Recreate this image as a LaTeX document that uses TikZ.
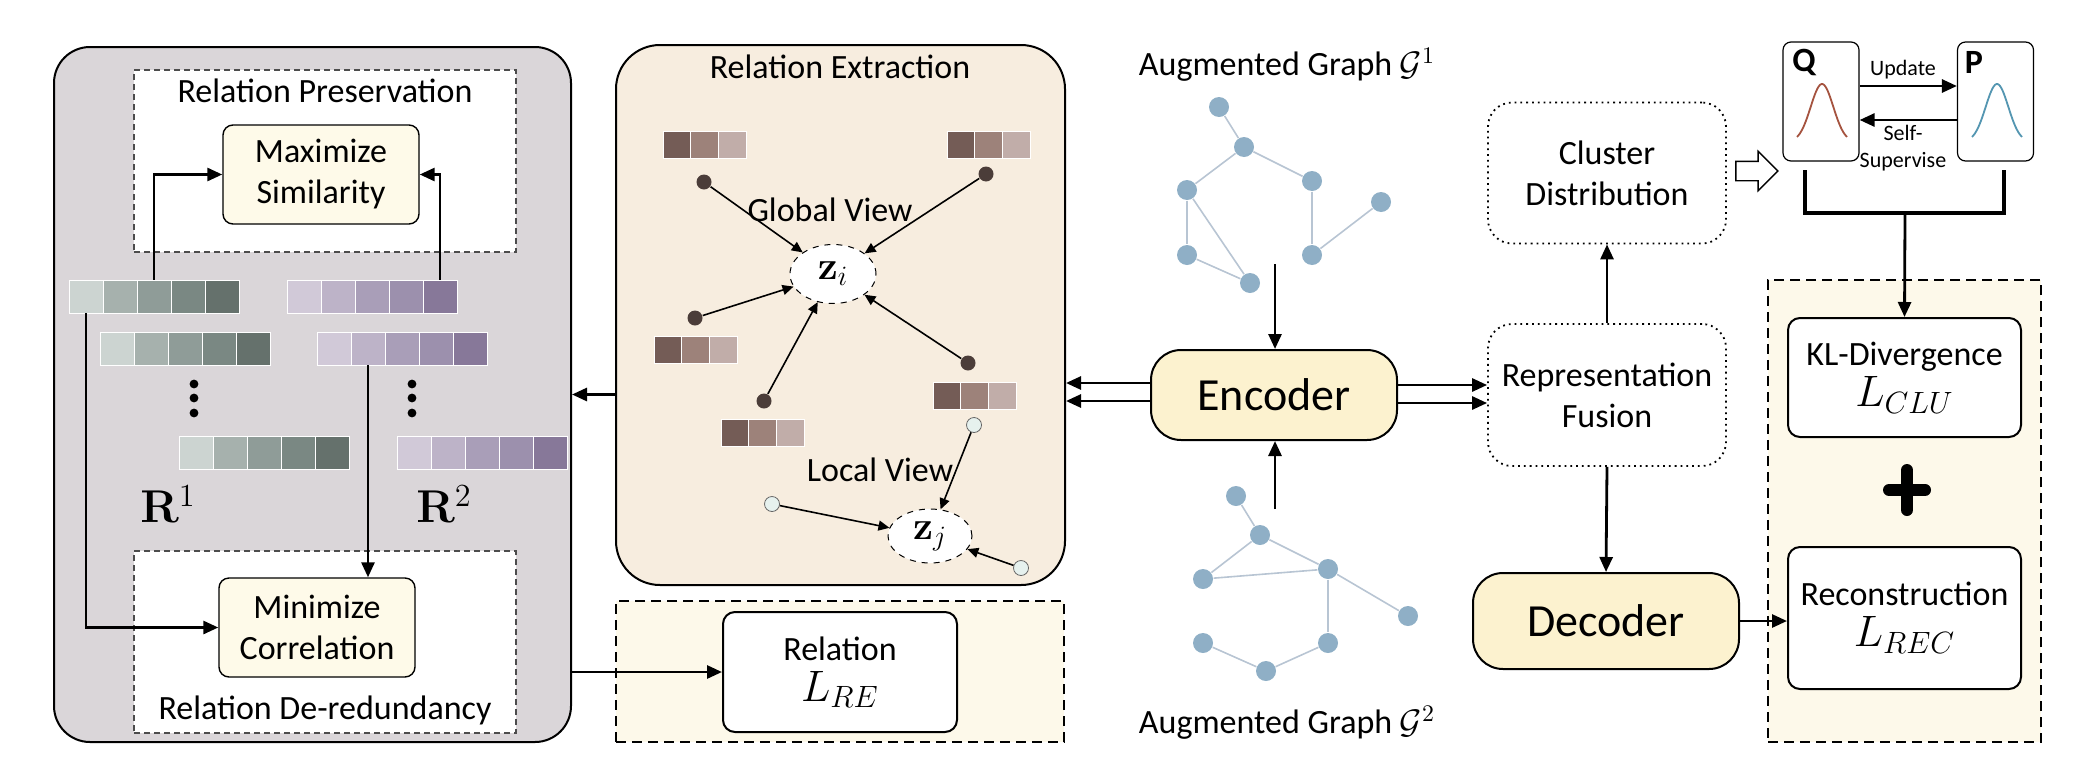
\RequirePackage{fix-cm}
\documentclass[tikz,border=0pt]{standalone}
\usepackage{amsmath, amssymb}
\usepackage[no-math]{fontspec}
\setmainfont{Carlito}
\usetikzlibrary{positioning, arrows.meta, shapes.geometric, shapes.arrows}
\definecolor{grayfill}{HTML}{DAD6D9}
\definecolor{beige}{HTML}{F7EDDF}
\definecolor{codefill}{HTML}{FCF2CF}
\definecolor{cream}{HTML}{FEFAE9}
\definecolor{yelbg}{HTML}{FDF9EA}
\definecolor{g1}{HTML}{CCD4D1}
\definecolor{g2}{HTML}{A6B1AD}
\definecolor{g3}{HTML}{8F9C98}
\definecolor{g4}{HTML}{7A8883}
\definecolor{g5}{HTML}{65716C}
\definecolor{p1}{HTML}{D1C9D8}
\definecolor{p2}{HTML}{BDB3C8}
\definecolor{p3}{HTML}{A99EB8}
\definecolor{p4}{HTML}{9C90AD}
\definecolor{p5}{HTML}{877899}
\definecolor{b1}{HTML}{745C56}
\definecolor{b2}{HTML}{9D827A}
\definecolor{b3}{HTML}{C1ADA9}
\definecolor{darkdot}{HTML}{4B3D39}
\definecolor{lightdot}{HTML}{E6F1EE}
\definecolor{gnodecol}{HTML}{8FAFC6}
\definecolor{gedgecol}{HTML}{B8C5D3}
\definecolor{qred}{HTML}{A5533F}
\definecolor{pblue}{HTML}{5496B1}
\newcommand{\lossfont}{\fontsize{22}{24}\selectfont}

\begin{document}
\begin{tikzpicture}[x = 0.5pt, y = -0.5pt, semithick,
        font = \fontsize{17}{20.5}\selectfont,
        >={Triangle[length=7.5pt, width=6.5pt]},
        panel/.style = {draw, line width = 1pt, inner sep = 0},
        whitebox/.style = {draw = black!70, dash pattern = on 3pt off 2pt, line width = 0.6pt, fill = white, inner sep = 0},
        yelbox/.style = {draw, dash pattern = on 5pt off 3pt, line width = 0.9pt, fill = yelbg, inner sep = 0},
        softbox/.style = {draw, rounded corners = 5pt, fill = cream, line width = 0.7pt, align = center, inner sep = 0},
        codebox/.style = {draw, rounded corners = 15pt, fill = codefill, line width = 1pt, inner sep = 0, font = \fontsize{23}{26}\selectfont},
        dotbox/.style = {draw, dotted, rounded corners = 12pt, line width = 0.9pt, align = center, inner sep = 0},
        lossbox/.style = {draw, rounded corners = 6pt, fill = white, line width = 1pt, align = center, inner sep = 0},
        distbox/.style = {draw, rounded corners = 4pt, fill = white, line width = 0.6pt, inner sep = 0, minimum width = 38pt, minimum height = 59.5pt},
        cell/.style = {draw = white, line width = 0.3pt, inner sep = 0, minimum width = 17pt, minimum height = 16.5pt},
        bcell/.style = {draw = white, line width = 0.3pt, inner sep = 0, minimum width = 13.85pt, minimum height = 13.5pt},
        ddot/.style = {circle, fill = darkdot, inner sep = 0, minimum size = 7.5pt},
        ldot/.style = {circle, draw = black!60, fill = lightdot, line width = 0.4pt, inner sep = 0, minimum size = 7.5pt},
        vec/.style = {ellipse, draw, dashed, fill = white, line width = 0.5pt, inner sep = 0, font = \fontsize{20}{22}\selectfont},
        rlabel/.style = {font = \fontsize{23}{26}\selectfont},
        gnode/.style = {circle, fill = gnodecol, inner sep = 0, minimum size = 10pt},
        gedge/.style = {draw = gedgecol, line width = 0.8pt},
        flow/.style = {->, line width = 1.4pt},
        view/.style = {-{Triangle[length=5.5pt, width=5pt]}, line width = 0.8pt}]

    \useasboundingbox (0, 0) rectangle (2076, 782);

    %panel izquierdo
    \node[panel, fill = grayfill, rounded corners = 18pt, minimum width = 258.5pt, minimum height = 347.5pt] (rel) at (312.5, 394.5) {};
    \node[whitebox, minimum width = 191pt, minimum height = 91pt] (rp) at (325, 161) {};
    \node (rptitle) at (325, 91) {Relation Preservation};
    \node[softbox, minimum width = 98pt, minimum height = 49.5pt] (maxsim) at (321, 174.5) {Maximize\\Similarity};
    \node[whitebox, minimum width = 191pt, minimum height = 91pt] (rd) at (325, 642) {};
    \node (rdtitle) at (325, 710) {Relation De-redundancy};
    \node[softbox, minimum width = 98pt, minimum height = 49.5pt] (mincor) at (317, 627.5) {Minimize\\Correlation};

    \foreach \r/\c/\x/\y in {ua/g/69/296.5, ub/g/100/348.5, uc/g/179/453, va/p/287/296.5, vb/p/317/348.5, vc/p/397/453}
        \foreach \k in {1,...,5}
            \node[cell, fill = \c\k] (\r\k) at ({\x + 17 + 34*(\k - 1)}, \y) {};
    \foreach \d in {384, 398, 413} {
        \fill (194, \d) circle (2.2pt);
        \fill (412, \d) circle (2.2pt);
    }
    \node[rlabel] (r1) at (168, 504) {$\mathbf{R}^1$};
    \node[rlabel] (r2) at (444, 504) {$\mathbf{R}^2$};

    \draw[flow] (ua3.north) |- (maxsim.west);
    \draw[flow] (va5.north) |- (maxsim.east);
    \draw[flow] (ua1.south) |- (mincor.west);
    \draw[flow] (vb2.south) -- (vb2.south |- mincor.north);

    %extraccion de relaciones
    \node[panel, fill = beige, rounded corners = 22pt, minimum width = 224.5pt, minimum height = 270pt] (ext) at (840.5, 315) {};
    \node (exttitle) at (840, 67) {Relation Extraction};
    \foreach \r/\x/\y in {ba/663/144.5, bb/947/144.5, bc/654/350, bd/721/433, be/933/396}
        \foreach \k in {1, 2, 3}
            \node[bcell, fill = b\k] (\r\k) at ({\x + 13.85 + 27.7*(\k - 1)}, \y) {};

    \node[ddot] (d1) at (704, 182) {};
    \node[ddot] (d2) at (986, 174) {};
    \node[ddot] (d3) at (695, 318) {};
    \node[ddot] (d4) at (764, 401) {};
    \node[ddot] (d5) at (968, 363) {};
    \node[vec, minimum width = 43pt, minimum height = 29.5pt] (zi) at (833, 274) {$\mathbf{z}_i$};
    \node (glob) at (830, 210) {Global View};

    \node[ldot] (l1) at (974, 425) {};
    \node[ldot] (l2) at (772, 504) {};
    \node[ldot] (l3) at (1021, 568) {};
    \node[vec, minimum width = 42pt, minimum height = 27pt] (zj) at (930, 536) {$\mathbf{z}_j$};
    \node (loc) at (880, 470) {Local View};

    \path (d1) edge[view] (zi);
    \path (d2) edge[view] (zi);
    \path (d3) edge[view] (zi);
    \path (d4) edge[view] (zi);
    \path (d5) edge[view] (zi);
    \path (l1) edge[view] (zj);
    \path (l2) edge[view] (zj);
    \path (l3) edge[view] (zj);

    \draw[flow] (ext.west |- rel.east) -- (rel.east);

    %perdida de relacion
    \node[yelbox, minimum width = 224pt, minimum height = 70.5pt] (lrebox) at (840, 671.5) {};
    \node[lossbox, minimum width = 117pt, minimum height = 60pt] (lre) at (840, 672) {Relation\\{\lossfont$L_{RE}$}};
    \draw[flow] (rel.east |- lre.west) -- (lre.west);

    %grafos aumentados
    \node (g1title) at (1287, 65) {Augmented Graph $\mathcal{G}^1$};
    \node[gnode] (n1) at (1219, 107) {};
    \node[gnode] (n2) at (1244, 147) {};
    \node[gnode] (n3) at (1187, 190) {};
    \node[gnode] (n4) at (1312, 181) {};
    \node[gnode] (n5) at (1381, 202) {};
    \node[gnode] (n6) at (1187, 255) {};
    \node[gnode] (n7) at (1312, 255) {};
    \node[gnode] (n8) at (1250, 283) {};
    \path (n1) edge[gedge] (n2);
    \path (n2) edge[gedge] (n3);
    \path (n2) edge[gedge] (n4);
    \path (n3) edge[gedge] (n6);
    \path (n3) edge[gedge] (n8);
    \path (n6) edge[gedge] (n8);
    \path (n4) edge[gedge] (n7);
    \path (n7) edge[gedge] (n5);

    \node (g2title) at (1287, 723) {Augmented Graph $\mathcal{G}^2$};
    \node[gnode] (m1) at (1236, 496) {};
    \node[gnode] (m2) at (1260, 535) {};
    \node[gnode] (m3) at (1203, 579) {};
    \node[gnode] (m4) at (1328, 569) {};
    \node[gnode] (m5) at (1408, 616) {};
    \node[gnode] (m6) at (1203, 643) {};
    \node[gnode] (m7) at (1266, 671) {};
    \node[gnode] (m8) at (1328, 643) {};
    \path (m1) edge[gedge] (m2);
    \path (m2) edge[gedge] (m3);
    \path (m2) edge[gedge] (m4);
    \path (m3) edge[gedge] (m4);
    \path (m4) edge[gedge] (m5);
    \path (m4) edge[gedge] (m8);
    \path (m8) edge[gedge] (m7);
    \path (m7) edge[gedge] (m6);

    %codificador
    \node[codebox, minimum width = 123pt, minimum height = 45pt] (enc) at (1274, 395) {Encoder};
    \coordinate (g1out) at (1275, 264);
    \coordinate (g2out) at (1275, 509);
    \draw[flow] (g1out) -- (g1out |- enc.north);
    \draw[flow] (g2out) -- (g2out |- enc.south);

    \coordinate (ea) at ([yshift = 6pt]enc.west);
    \coordinate (eb) at ([yshift = -3pt]enc.west);
    \draw[flow] (ea) -- (ea -| ext.east);
    \draw[flow] (eb) -- (eb -| ext.east);

    \node[dotbox, minimum width = 119pt, minimum height = 71pt] (fuse) at (1607, 395) {Representation\\Fusion};
    \node[dotbox, minimum width = 119pt, minimum height = 70.5pt] (clus) at (1607, 173) {Cluster\\Distribution};
    \coordinate (ec) at ([yshift = 5pt]enc.east);
    \coordinate (ed) at ([yshift = -4pt]enc.east);
    \draw[flow] (ec) -- (ec -| fuse.west);
    \draw[flow] (ed) -- (ed -| fuse.west);
    \draw[flow] (fuse.north) -- (clus.south);

    \node[codebox, minimum width = 133pt, minimum height = 48pt] (dec) at (1606, 621) {Decoder};
    \draw[flow] (fuse.south) -- (dec.north);

    %distribuciones Q y P
    \node[single arrow, draw, line width = 0.7pt, fill = white, minimum height = 21pt, single arrow head extend = 5pt, inner sep = 4.5pt] (hollow) at (1752, 171) {};
    \node[distbox] (qbox) at (1821, 101.5) {};
    \node[distbox] (pbox) at (1995.5, 101.5) {};
    \node[font = \fontsize{17}{20}\bfseries] (qlabel) at (1804, 62) {Q};
    \node[font = \fontsize{17}{20}\bfseries] (plabel) at (1974, 62) {P};
    \draw[qred, line width = 0.9pt] plot[domain = -25:25, samples = 40, smooth] ({1822 + \x}, {142 - 58*exp(0 - (\x/16)*(\x/16))});
    \draw[pblue, line width = 0.9pt] plot[domain = -25:25, samples = 40, smooth] ({1997 + \x}, {142 - 58*exp(0 - (\x/16)*(\x/16))});

    \draw[flow] ([yshift = 7.75pt]qbox.east) -- ([yshift = 7.75pt]pbox.west);
    \draw[flow] ([yshift = -9.25pt]pbox.west) -- ([yshift = -9.25pt]qbox.east);
    \node[font = \fontsize{11}{13.5}\selectfont] (upd) at (1903, 70) {Update};
    \node[font = \fontsize{11}{13.5}\selectfont, align = center] (selfsup) at (1903, 148) {Self-\\Supervise};

    \coordinate (bq) at (1805, 170);
    \coordinate (bp) at (2004, 170);
    \coordinate (bm) at (1905, 213);
    \draw[line width = 1.8pt] (bq) |- (bm) -| (bp);

    %perdidas
    \node[yelbox, minimum width = 136.5pt, minimum height = 231pt] (lossall) at (1904.5, 511) {};
    \node[lossbox, minimum width = 116.5pt, minimum height = 59.5pt] (kl) at (1904.5, 377.5) {KL-Divergence\\{\lossfont$L_{CLU}$}};
    \node[lossbox, minimum width = 116.5pt, minimum height = 71pt] (rec) at (1904.5, 618) {Reconstruction\\{\lossfont$L_{REC}$}};
    \draw[line width = 6pt, line cap = round] (1889, 490) -- (1925, 490);
    \draw[line width = 6pt, line cap = round] (1907, 470) -- (1907, 510);
    \draw[flow] (bm) -- (kl.north);
    \draw[flow] (dec.east) -- (dec.east -| rec.west);

\end{tikzpicture}
\end{document}
